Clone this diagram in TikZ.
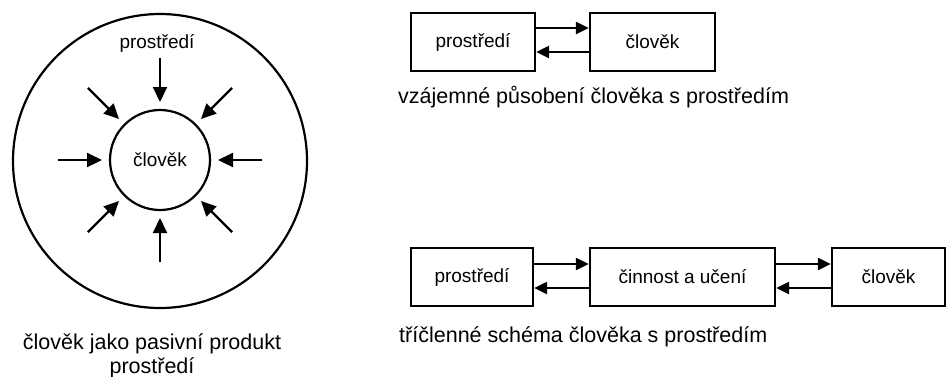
\documentclass[tikz,border=0pt]{standalone}
\usepackage{fontspec}
\setmainfont{Liberation Sans}
\usetikzlibrary{arrows.meta,calc}
\begin{document}
\begin{tikzpicture}[x=1pt,y=-1pt,
  lbl/.style={font=\fontsize{19}{22}\selectfont},
  captxt/.style={font=\fontsize{21.5}{24}\selectfont, inner sep=0pt},
  boxn/.style={draw, line width=2.3pt, inner sep=0pt, lbl, minimum height=58pt},
  circ/.style={draw, circle, line width=2.2pt, inner sep=0pt},
  arr/.style={line width=2.2pt, -{Triangle[length=13pt,width=12pt]}},
  carr/.style={line width=2.2pt, -{Triangle[length=15pt,width=14pt]}},
]
\useasboundingbox (0,0) rectangle (947,376);
% left: circles
\node[circ, minimum size=294pt] (outer) at (160,161) {};
\node[circ, minimum size=100pt, lbl] (inner) at (160,160) {člověk};
\node[lbl, anchor=base] (envl) at (157,48) {prostředí};
\foreach \a in {0,45,...,315}{
  \coordinate (s\a) at ($(inner.center)+(\a:102)$);
  \coordinate (e\a) at ($(inner.center)+(\a:58)$);
  \draw[carr] (s\a) -- (e\a);
}
\node[captxt, anchor=base] (cap3a) at (152,349) {člověk jako pasivní produkt};
\node[captxt, anchor=base] (cap3b) at (152,373) {prostředí};
% top right
\node[boxn, minimum width=124pt] (p1) at (473,42) {prostředí};
\node[boxn, minimum width=125pt] (c1) at (652.5,42) {člověk};
\draw[arr] ([yshift=14pt]p1.east) -- ([yshift=14pt]c1.west);
\draw[arr] ([yshift=-10pt]c1.west) -- ([yshift=-10pt]p1.east);
\node[captxt, anchor=base west] (cap1) at (398,103) {vzájemné působení člověka s prostředím};
% bottom right
\node[boxn, minimum width=122pt] (p2) at (472,277) {prostředí};
\node[boxn, minimum width=185pt] (m2) at (682.5,277) {činnost a učení};
\node[boxn, minimum width=113pt] (c2) at (888.5,277) {člověk};
\draw[arr] ([yshift=13pt]p2.east) -- ([yshift=13pt]m2.west);
\draw[arr] ([yshift=-11pt]m2.west) -- ([yshift=-11pt]p2.east);
\draw[arr] ([yshift=13pt]m2.east) -- ([yshift=13pt]c2.west);
\draw[arr] ([yshift=-11pt]c2.west) -- ([yshift=-11pt]m2.east);
\node[captxt, anchor=base west] (cap2) at (399,342) {tříčlenné schéma člověka s prostředím};
\end{tikzpicture}
\end{document}
